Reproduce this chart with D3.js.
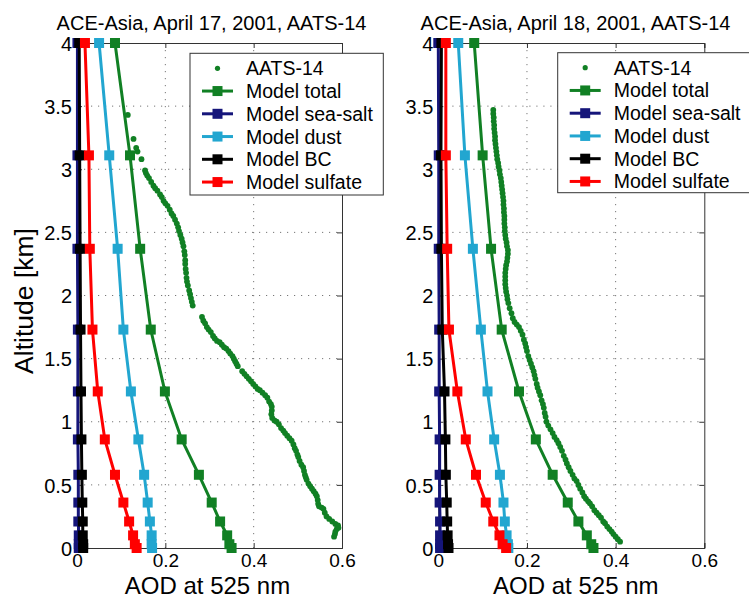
<!DOCTYPE html>
<html>
<head>
<meta charset="utf-8">
<script src="https://cdn.jsdelivr.net/npm/d3@7"></script>
<style>
html,body{margin:0;padding:0;background:#fff;}
svg{display:block;font-family:"Liberation Sans",Arial,Helvetica,sans-serif;}
</style>
</head>
<body>
<svg id="chart" width="749" height="599"></svg>
<script>
// ---- data ----
const altitudes = [0, 0.03, 0.10, 0.21, 0.36, 0.58, 0.86, 1.24, 1.73, 2.37, 3.11, 4.00];

const total17   = [0.350, 0.345, 0.340, 0.324, 0.305, 0.276, 0.237, 0.199, 0.167, 0.143, 0.120, 0.086];
const seasalt17 = [0.004, 0.004, 0.004, 0.003, 0.003, 0.003, 0.002, 0.002, 0.002, 0.001, 0.001, 0.001];
const dust17    = [0.170, 0.169, 0.169, 0.165, 0.160, 0.152, 0.139, 0.122, 0.105, 0.092, 0.073, 0.050];
const bc17      = [0.014, 0.014, 0.013, 0.013, 0.012, 0.011, 0.010, 0.009, 0.008, 0.007, 0.006, 0.005];
const sulfate17 = [0.135, 0.131, 0.127, 0.118, 0.105, 0.086, 0.063, 0.047, 0.035, 0.029, 0.027, 0.018];

const total18   = [0.350, 0.345, 0.335, 0.316, 0.292, 0.258, 0.220, 0.182, 0.143, 0.119, 0.100, 0.081];
const seasalt18 = [0.004, 0.004, 0.004, 0.004, 0.003, 0.003, 0.003, 0.002, 0.002, 0.001, 0.001, 0.000];
const dust18    = [0.158, 0.157, 0.154, 0.150, 0.147, 0.139, 0.126, 0.111, 0.096, 0.078, 0.060, 0.045];
const bc18      = [0.023, 0.022, 0.021, 0.020, 0.019, 0.017, 0.016, 0.014, 0.009, 0.007, 0.006, 0.007];
const sulfate18 = [0.153, 0.145, 0.138, 0.124, 0.107, 0.085, 0.062, 0.043, 0.024, 0.020, 0.017, 0.017];

// AATS-14 measured profiles [AOD, altitude km]
const aats17 = [
 [0.115,3.43],[0.128,3.24],[0.134,3.17],[0.137,3.14],[0.146,3.08],[0.154,2.99],[0.156,2.97],[0.159,2.95],
 [0.163,2.93],[0.168,2.90],[0.173,2.87],[0.177,2.85],[0.182,2.83],[0.188,2.80],[0.192,2.78],[0.196,2.75],
 [0.200,2.73],[0.205,2.71],[0.210,2.68],[0.214,2.65],[0.218,2.63],[0.222,2.60],[0.226,2.57],[0.229,2.54],
 [0.231,2.51],[0.234,2.48],[0.237,2.45],[0.239,2.42],[0.241,2.39],[0.243,2.35],[0.244,2.32],[0.245,2.28],
 [0.245,2.25],[0.246,2.21],[0.247,2.18],[0.248,2.14],[0.249,2.11],[0.251,2.08],[0.254,2.04],[0.256,2.01],
 [0.258,1.98],[0.260,1.95],[0.262,1.92],
 [0.283,1.83],[0.286,1.80],[0.290,1.78],[0.294,1.75],[0.298,1.73],[0.303,1.71],[0.308,1.68],[0.312,1.66],
 [0.317,1.64],[0.323,1.63],[0.328,1.61],[0.333,1.59],[0.338,1.58],[0.343,1.56],[0.347,1.54],[0.352,1.52],
 [0.355,1.50],[0.358,1.48],[0.361,1.46],[0.364,1.44],
 [0.374,1.40],[0.379,1.38],[0.384,1.36],[0.389,1.34],[0.394,1.32],[0.399,1.30],[0.404,1.28],[0.409,1.26],
 [0.414,1.25],[0.420,1.23],[0.426,1.21],[0.431,1.19],[0.435,1.16],[0.439,1.14],[0.441,1.12],[0.441,1.09],
 [0.440,1.06],[0.442,1.03],[0.447,1.01],[0.452,1.00],[0.457,0.98],[0.462,0.95],[0.467,0.93],[0.471,0.91],
 [0.476,0.89],[0.481,0.87],[0.486,0.85],[0.490,0.82],[0.493,0.79],[0.496,0.77],[0.499,0.74],[0.501,0.72],
 [0.504,0.69],[0.508,0.66],[0.512,0.64],[0.514,0.61],[0.516,0.58],[0.518,0.56],[0.520,0.54],[0.524,0.51],
 [0.528,0.49],[0.532,0.47],[0.536,0.45],[0.540,0.43],[0.543,0.41],[0.545,0.38],[0.546,0.35],[0.548,0.33],
 [0.554,0.32],[0.558,0.31],[0.561,0.28],[0.565,0.25],[0.571,0.23],[0.578,0.21],[0.585,0.19],[0.591,0.18],
 [0.592,0.16],[0.588,0.15],[0.585,0.13],[0.584,0.11],[0.582,0.09]
];
const aats18 = [
 [0.124,3.47],[0.124,3.44],[0.125,3.41],[0.125,3.38],[0.126,3.35],[0.126,3.32],[0.127,3.29],[0.128,3.26],
 [0.128,3.23],[0.129,3.20],[0.130,3.17],[0.131,3.14],[0.132,3.11],[0.133,3.08],[0.135,3.05],[0.136,3.02],
 [0.138,2.99],[0.139,2.96],[0.141,2.93],[0.142,2.90],[0.143,2.87],[0.144,2.84],[0.145,2.81],[0.146,2.78],
 [0.147,2.75],[0.147,2.72],[0.148,2.69],[0.148,2.66],[0.149,2.63],[0.149,2.60],[0.149,2.57],[0.150,2.54],
 [0.150,2.51],[0.151,2.48],[0.152,2.45],[0.154,2.42],[0.155,2.39],[0.157,2.36],[0.157,2.33],[0.156,2.30],
 [0.155,2.27],[0.153,2.24],[0.152,2.21],[0.151,2.18],[0.151,2.15],[0.151,2.12],[0.151,2.09],[0.152,2.06],
 [0.153,2.03],[0.155,2.00],[0.156,1.97],[0.158,1.94],[0.161,1.90],[0.165,1.86],[0.168,1.82],[0.172,1.79],
 [0.177,1.77],[0.182,1.75],[0.186,1.72],[0.190,1.69],[0.193,1.65],[0.196,1.62],[0.198,1.59],[0.200,1.56],
 [0.203,1.52],[0.206,1.49],[0.209,1.46],[0.212,1.43],[0.215,1.40],[0.217,1.37],[0.219,1.34],[0.222,1.30],
 [0.224,1.27],[0.227,1.24],[0.230,1.21],[0.233,1.17],[0.236,1.14],[0.238,1.11],[0.240,1.07],[0.242,1.04],
 [0.244,1.00],[0.248,0.97],[0.253,0.94],[0.258,0.91],[0.262,0.88],[0.267,0.855],[0.271,0.83],[0.275,0.80],
 [0.279,0.77],[0.283,0.73],[0.287,0.70],[0.290,0.67],[0.294,0.64],[0.298,0.61],[0.303,0.58],[0.307,0.55],
 [0.312,0.53],[0.316,0.50],[0.320,0.47],[0.325,0.44],[0.329,0.41],[0.333,0.39],[0.338,0.37],[0.342,0.354],
 [0.347,0.33],[0.352,0.30],[0.357,0.28],[0.362,0.26],[0.367,0.24],[0.372,0.21],[0.376,0.196],[0.381,0.17],
 [0.386,0.15],[0.391,0.13],[0.395,0.11],[0.400,0.09],[0.405,0.07],[0.410,0.05]
];

const titles = ["ACE-Asia, April 17, 2001, AATS-14", "ACE-Asia, April 18, 2001, AATS-14"];
const legendLabels = ["AATS-14", "Model total", "Model sea-salt", "Model dust", "Model BC", "Model sulfate"];
const xTicks = [0, 0.2, 0.4, 0.6];
const yTicks = [0, 0.5, 1, 1.5, 2, 2.5, 3, 3.5, 4];
const xLabel = "AOD at 525 nm";
const yLabel = "Altitude [km]";

// ---- styles ----
const colors = {aats:"#118024", total:"#118024", seasalt:"#15157a", dust:"#22a6d0", bc:"#000000", sulfate:"#ff0000"};
const FONT = '"Liberation Sans",Arial,Helvetica,sans-serif';

const svg = d3.select("#chart");

const panels = [
  {x0:77, x1:342, title:titles[0], titleX:211.5, xLabelX:207.5, showY:true,
   aats:aats17, series:[["total",total17],["seasalt",seasalt17],["dust",dust17],["bc",bc17],["sulfate",sulfate17]],
   legend:{x:190, y:53.3, w:193.3, h:141.7}},
  {x0:438.3, x1:704.3, title:titles[1], titleX:575.5, xLabelX:575.8, showY:false,
   aats:aats18, series:[["total",total18],["seasalt",seasalt18],["dust",dust18],["bc",bc18],["sulfate",sulfate18]],
   legend:{x:557.7, y:52.7, w:193.3, h:140}}
];

const yTop = 43, yBot = 548;

panels.forEach(p => {
  const x = d3.scaleLinear().domain([0, 0.6]).range([p.x0, p.x1]);
  const y = d3.scaleLinear().domain([0, 4]).range([yBot, yTop]);
  const g = svg.append("g");

  // grid
  g.append("g").selectAll("line").data(xTicks.slice(1, -1)).join("line")
    .attr("x1", d => x(d)).attr("x2", d => x(d)).attr("y1", yTop).attr("y2", yBot)
    .attr("stroke", "#777").attr("stroke-width", 1).attr("stroke-dasharray", "1.2,5.8");
  g.append("g").selectAll("line").data(yTicks.slice(1, -1)).join("line")
    .attr("x1", p.x0).attr("x2", p.x1).attr("y1", d => y(d)).attr("y2", d => y(d))
    .attr("stroke", "#777").attr("stroke-width", 1).attr("stroke-dasharray", "1.2,5.8");

  // axes (inward ticks, box)
  const ax = d3.axisBottom(x).tickValues(xTicks).tickSize(-5).tickFormat(d3.format("~g")).tickPadding(6);
  const axG = g.append("g").attr("transform", `translate(0,${yBot})`).call(ax);
  const axT = g.append("g").attr("transform", `translate(0,${yTop})`).call(d3.axisTop(x).tickValues(xTicks).tickSize(-5).tickFormat(""));
  const ay = d3.axisLeft(y).tickValues(yTicks).tickSize(-5).tickFormat(d3.format("~g")).tickPadding(5);
  const ayG = g.append("g").attr("transform", `translate(${p.x0},0)`).call(ay);
  const ayR = g.append("g").attr("transform", `translate(${p.x1},0)`).call(d3.axisRight(y).tickValues(yTicks).tickSize(-5).tickFormat(""));
  [axG, axT, ayG, ayR].forEach(a => {
    a.select(".domain").attr("stroke", "#333").attr("stroke-width", 1);
    a.selectAll(".tick line").attr("stroke", "#333");
  });
  axG.selectAll(".tick text").attr("font-size", 19).attr("font-family", FONT).attr("fill", "#000");
  ayG.selectAll(".tick text").attr("font-size", 20).attr("font-family", FONT).attr("fill", "#000").attr("dy", "0.36em");

  // title
  g.append("text").attr("x", p.titleX).attr("y", 30).attr("text-anchor", "middle")
    .attr("font-size", 20).attr("font-family", FONT).text(p.title);
  // x label
  g.append("text").attr("x", p.xLabelX).attr("y", 593.5).attr("text-anchor", "middle")
    .attr("font-size", 24).attr("font-family", FONT).text(xLabel);
  if (p.showY) {
    g.append("text").attr("transform", "translate(33,301) rotate(-90)").attr("text-anchor", "middle")
      .attr("font-size", 26.5).attr("font-family", FONT).text(yLabel);
  }

  // AATS dots
  g.append("g").selectAll("circle").data(p.aats).join("circle")
    .attr("cx", d => x(d[0])).attr("cy", d => y(d[1])).attr("r", 2.9).attr("fill", colors.aats);

  // model lines
  p.series.forEach(([key, vals]) => {
    const pts = vals.map((v, i) => [v, altitudes[i]]);
    g.append("path").datum(pts)
      .attr("d", d3.line().x(d => x(d[0])).y(d => y(d[1])))
      .attr("fill", "none").attr("stroke", colors[key]).attr("stroke-width", 3);
    g.append("g").selectAll("rect").data(pts).join("rect")
      .attr("x", d => x(d[0]) - 5).attr("y", d => y(d[1]) - 5).attr("width", 10).attr("height", 10)
      .attr("fill", colors[key]);
  });

  // legend
  const L = p.legend;
  const lg = g.append("g");
  lg.append("rect").attr("x", L.x).attr("y", L.y).attr("width", L.w).attr("height", L.h)
    .attr("fill", "#fff").attr("stroke", "#333").attr("stroke-width", 1);
  const keys = ["aats", "total", "seasalt", "dust", "bc", "sulfate"];
  keys.forEach((k, i) => {
    const cy = L.y + 15 + i * 22.75;
    const sx0 = L.x + 12, sx1 = L.x + 43, sc = (sx0 + sx1) / 2;
    if (k === "aats") {
      lg.append("circle").attr("cx", sc).attr("cy", cy).attr("r", 2.6).attr("fill", colors[k]);
    } else {
      lg.append("line").attr("x1", sx0).attr("x2", sx1).attr("y1", cy).attr("y2", cy)
        .attr("stroke", colors[k]).attr("stroke-width", 3);
      lg.append("rect").attr("x", sc - 5).attr("y", cy - 5).attr("width", 10).attr("height", 10).attr("fill", colors[k]);
    }
    lg.append("text").attr("x", L.x + 56).attr("y", cy + 7).attr("font-size", 19.5)
      .attr("font-family", FONT).text(legendLabels[i]);
  });
});
</script>
</body>
</html>
